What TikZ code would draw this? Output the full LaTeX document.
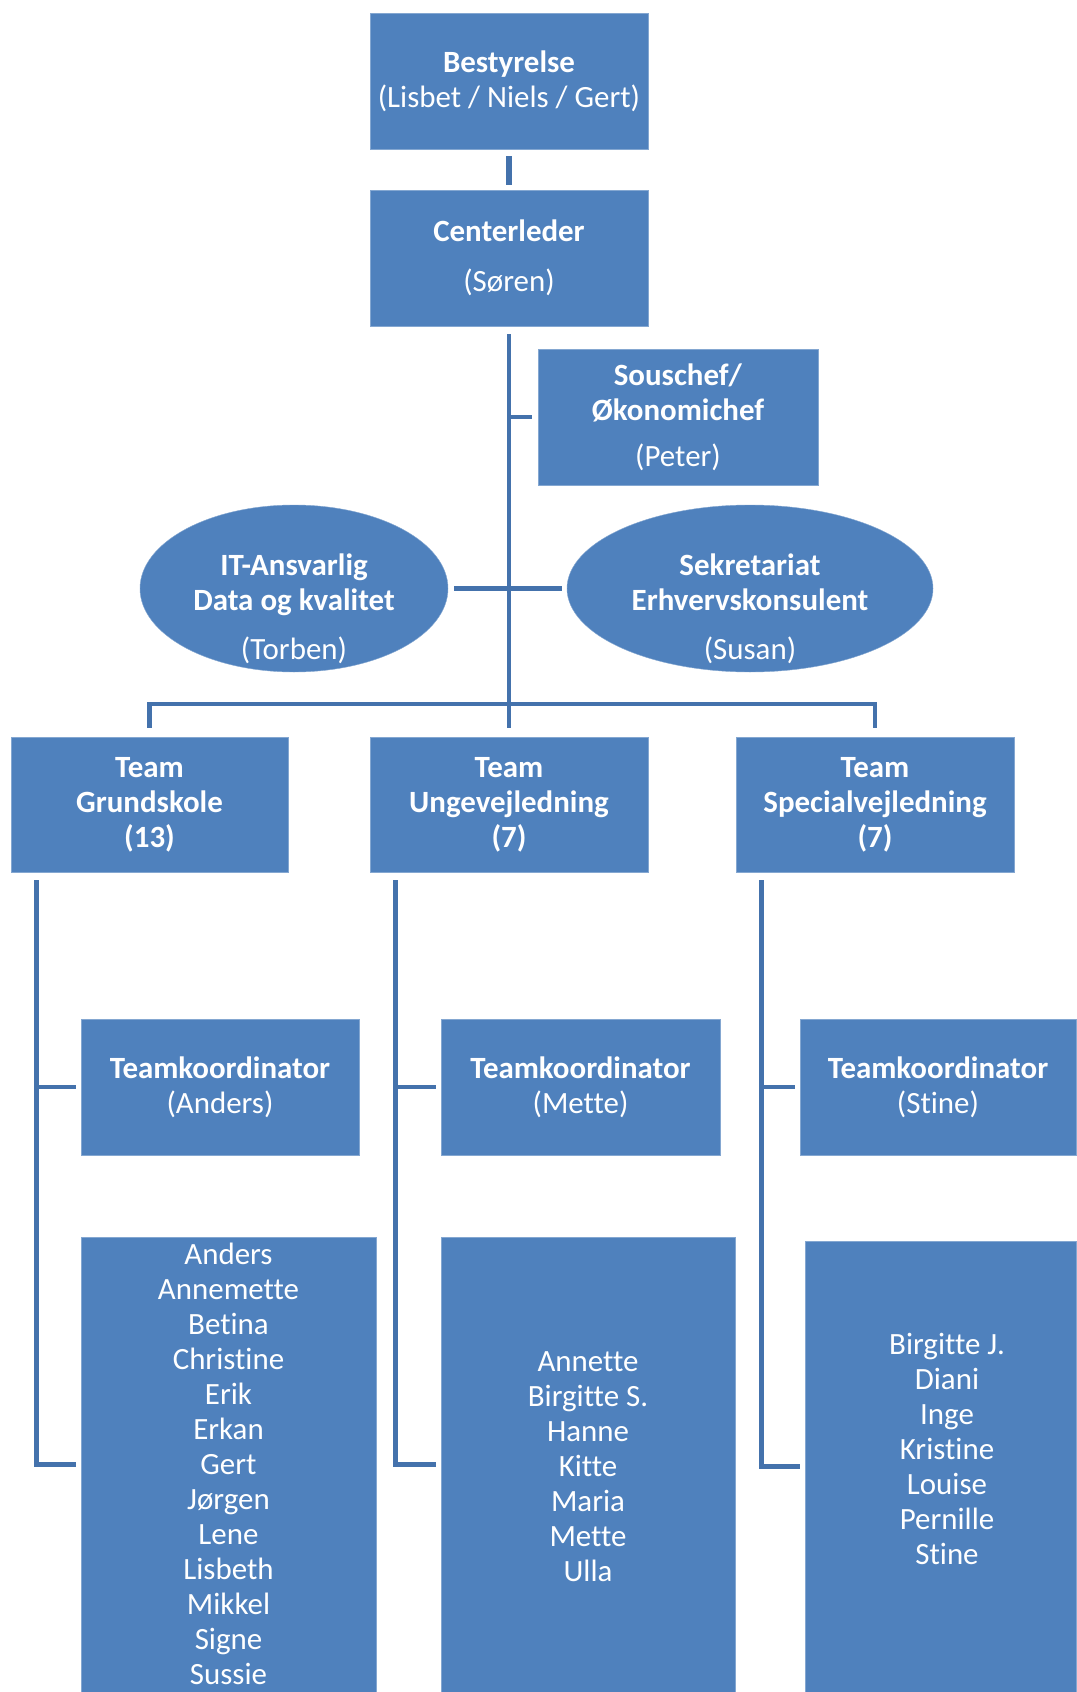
\documentclass[tikz,border=0pt]{standalone}
\usepackage{fontspec}
\setmainfont{Carlito}[Ligatures=NoCommon]
\usepackage{tikz}
\usetikzlibrary{shapes.geometric}
\definecolor{boxblue}{RGB}{79,129,189}
\definecolor{lineblue}{RGB}{68,114,172}
\tikzset{
	orgbox/.style={rectangle, fill=boxblue, draw=boxblue!70!white, line width=0.3pt, text=white, align=center, inner sep=0pt, font=\fontsize{22pt}{24.9pt}\selectfont},
	teambox/.style={orgbox, font=\fontsize{22pt}{24.9pt}\selectfont\bfseries},
	orgoval/.style={orgbox, ellipse},
	boxtext/.style={text=white, align=center, inner sep=0pt, font=\fontsize{22pt}{24.9pt}\selectfont},
	conn/.style={draw=lineblue, line width=3.2pt}
}

\begin{document}
\begin{tikzpicture}
		%%%%% START %%%%%
		
		\useasboundingbox (0, 0) rectangle (26.9, -42.3);
		
		% ledelse
		\node[orgbox, minimum width=6.95cm, minimum height=3.4cm] (bestyrelse) at (12.725, -2.025) {\textbf{Bestyrelse}\\(Lisbet / Niels / Gert)};
		\node[orgbox, minimum width=6.95cm, minimum height=3.4cm] (centerleder) at (12.725, -6.45) {\textbf{Centerleder}\\[10.6pt](Søren)};
		\node[orgbox, minimum width=7cm, minimum height=3.4cm] (souschef) at (16.95, -10.425) {\textbf{Souschef/}\\\textbf{Økonomichef}\\[8pt](Peter)};
		
		\node[orgoval, minimum width=7.7cm, minimum height=4.175cm] (itansv) at (7.35, -14.7125) {};
		\node[boxtext] at ([yshift=-0.5cm]itansv) {\textbf{IT-Ansvarlig}\\\textbf{Data og kvalitet}\\[10pt](Torben)};
		\node[orgoval, minimum width=9.15cm, minimum height=4.175cm] (sekr) at (18.75, -14.7125) {};
		\node[boxtext] at ([yshift=-0.5cm]sekr) {\textbf{Sekretariat}\\\textbf{Erhvervskonsulent}\\[10pt](Susan)};
		
		% teams
		\node[teambox, minimum width=6.925cm, minimum height=3.375cm] (teamgs) at (3.7375, -20.1125) {Team\\Grundskole\\(13)};
		\node[teambox, minimum width=6.95cm, minimum height=3.375cm] (teamuv) at (12.725, -20.1125) {Team\\Ungevejledning\\(7)};
		\node[teambox, minimum width=6.95cm, minimum height=3.375cm] (teamsv) at (21.875, -20.1125) {Team\\Specialvejledning\\(7)};
		
		\node[orgbox, minimum width=6.95cm, minimum height=3.4cm] (koordgs) at (5.5, -27.175) {\textbf{Teamkoordinator}\\(Anders)};
		\node[orgbox, minimum width=6.975cm, minimum height=3.4cm] (koorduv) at (14.5125, -27.175) {\textbf{Teamkoordinator}\\(Mette)};
		\node[orgbox, minimum width=6.9cm, minimum height=3.4cm] (koordsv) at (23.45, -27.175) {\textbf{Teamkoordinator}\\(Stine)};
		
		\node[orgbox, minimum width=7.375cm, minimum height=11.375cm] (namesgs) at (5.7125, -36.6125) {};
		\node[orgbox, minimum width=7.35cm, minimum height=11.375cm] (namesuv) at (14.7, -36.6125) {};
		\node[orgbox, minimum width=6.775cm, minimum height=11.275cm] (namessv) at (23.5125, -36.6625) {};
		
		\node[boxtext, anchor=north] (listgs) at (5.7125, -31.075) {Anders\\Annemette\\Betina\\Christine\\Erik\\Erkan\\Gert\\Jørgen\\Lene\\Lisbeth\\Mikkel\\Signe\\Sussie};
		\node[boxtext, anchor=north] (listuv) at (14.7, -33.775) {Annette\\Birgitte S.\\Hanne\\Kitte\\Maria\\Mette\\Ulla};
		\node[boxtext, anchor=north] (listsv) at (23.675, -33.325) {Birgitte J.\\Diani\\Inge\\Kristine\\Louise\\Pernille\\Stine};
		
		% streger
		\draw[conn, line width=4.2pt, shorten <=0.175cm, shorten >=0.125cm] (bestyrelse) -- (centerleder);
		\draw[conn, shorten <=0.2cm, shorten >=0.225cm] (centerleder) -- (teamuv);
		\draw[conn] (centerleder.south |- souschef.west) -- ([xshift=-0.15cm]souschef.west);
		\draw[conn, shorten <=0.15cm, shorten >=0.125cm] (itansv) -- (sekr);
		\draw[conn] ([yshift=0.225cm]teamgs.north) -- ++(0, 0.6) -| ([yshift=0.225cm]teamsv.north);
		
		\draw[conn] ([xshift=0.64cm, yshift=-0.2cm]teamgs.south west) |- ([xshift=-0.125cm]namesgs.west);
		\draw[conn] ([xshift=0.64cm]teamgs.south west |- koordgs.west) -- ([xshift=-0.125cm]koordgs.west);
		\draw[conn] ([xshift=0.64cm, yshift=-0.2cm]teamuv.south west) |- ([xshift=-0.125cm]namesuv.west);
		\draw[conn] ([xshift=0.64cm]teamuv.south west |- koorduv.west) -- ([xshift=-0.125cm]koorduv.west);
		\draw[conn] ([xshift=0.64cm, yshift=-0.2cm]teamsv.south west) |- ([xshift=-0.125cm]namessv.west);
		\draw[conn] ([xshift=0.64cm]teamsv.south west |- koordsv.west) -- ([xshift=-0.125cm]koordsv.west);
		
		%%%%% END %%%%%
\end{tikzpicture}
\end{document}
